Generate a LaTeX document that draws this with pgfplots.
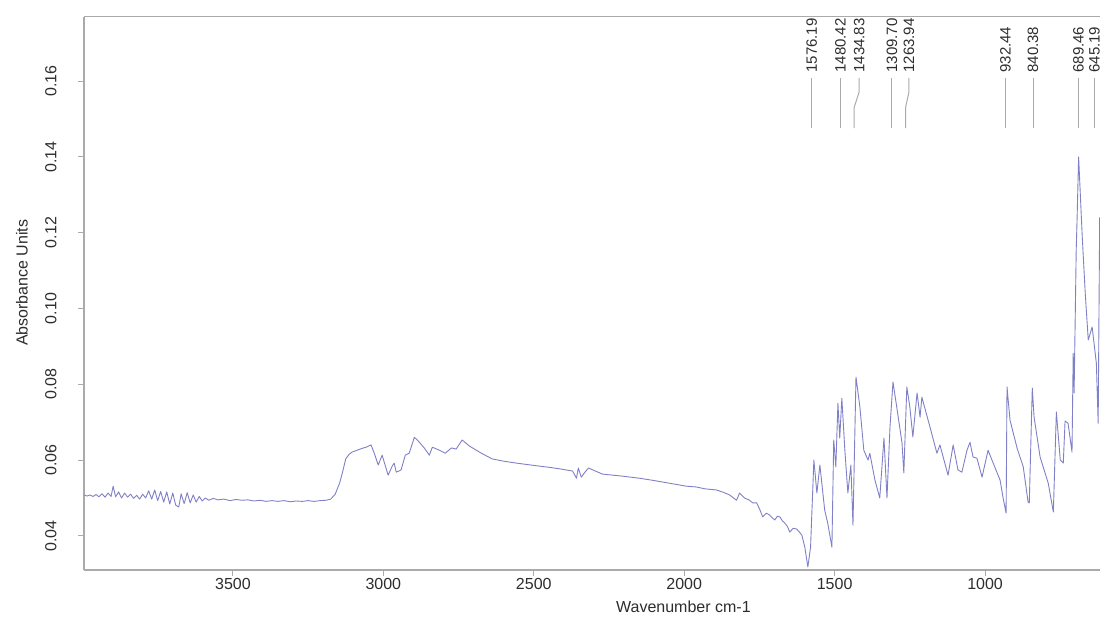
\documentclass[border=0pt]{standalone}
\usepackage{pgfplots}
\pgfplotsset{compat=1.18}
\usepackage{fontspec}
\setmainfont{Liberation Sans}
\definecolor{spec}{RGB}{128,128,198}
\definecolor{frame}{RGB}{170,170,170}
\definecolor{txt}{RGB}{45,45,45}
\begin{document}
\begin{tikzpicture}
\begin{axis}[
  at={(0,0)}, anchor=south west,
  width=508pt, height=276.7pt, scale only axis,
  xmin=618, xmax=3995, x dir=reverse,
  ymin=0.031, ymax=0.177,
  axis x line*=box, axis y line*=left,
  axis line style={frame, line width=0.6pt},
  xtick={1000,1500,2000,2500,3000,3500},
  ytick={0.04,0.06,0.08,0.10,0.12,0.14,0.16},
  xtick pos=lower, ytick pos=left,
  tick align=outside, major tick length=3pt,
  tick style={frame, line width=0.5pt},
  /pgf/number format/assume math mode=true,
  yticklabel style={/pgf/number format/fixed, /pgf/number format/zerofill, /pgf/number format/precision=2, rotate=90, anchor=south, inner sep=0pt},
  xticklabel style={/pgf/number format/set thousands separator={}, inner sep=0pt, anchor=north},
  xticklabel shift=1pt, yticklabel shift=10.5pt,
  tick label style={font=\fontsize{8}{9.6}\selectfont, text=txt},
  label style={font=\fontsize{8}{9.6}\selectfont, text=txt},
  xlabel={Wavenumber cm-1},
  xlabel style={at={(axis description cs:0.59,-0.0669)}, anchor=center},
  ylabel={Absorbance Units},
  ylabel style={at={(axis description cs:-0.061,0.519)}, anchor=center},
]
\addplot[spec, line width=0.45pt, line join=round] coordinates {
(3995,0.0508)(3985,0.0505)(3975,0.0508)(3965,0.0504)(3955,0.0509)(3945,0.0503)
(3935,0.0511)(3925,0.0502)(3915,0.0513)(3905,0.0504)(3898,0.0531)(3890,0.0503)
(3880,0.0516)(3870,0.0500)(3860,0.0513)(3850,0.0502)(3840,0.0510)(3830,0.0499)
(3820,0.0507)(3810,0.0497)(3800,0.0510)(3790,0.0500)(3780,0.0519)(3770,0.0497)
(3760,0.0521)(3750,0.0493)(3740,0.0517)(3730,0.0489)(3720,0.0516)(3710,0.0484)
(3700,0.0513)(3690,0.0481)(3680,0.0476)(3672,0.0511)(3662,0.0485)(3652,0.0514)
(3642,0.0487)(3632,0.0508)(3622,0.0489)(3612,0.0504)(3602,0.0492)(3592,0.0500)
(3580,0.0494)(3565,0.0499)(3550,0.0495)(3530,0.0497)(3510,0.0493)(3490,0.0496)
(3470,0.0494)(3450,0.0495)(3430,0.0492)(3410,0.0494)(3390,0.0491)(3370,0.0493)
(3350,0.0491)(3330,0.0493)(3310,0.0490)(3290,0.0492)(3270,0.0491)(3250,0.0493)
(3230,0.0491)(3210,0.0493)(3190,0.0494)(3175,0.0497)(3160,0.0510)(3145,0.0540)
(3135,0.0570)(3125,0.0603)(3114,0.0615)(3104,0.0621)(3087,0.0626)(3070,0.0631)
(3057,0.0634)(3041,0.0640)(3031,0.0620)(3017,0.0587)(3004,0.0613)(2984,0.0560)
(2970,0.0585)(2964,0.0592)(2957,0.0568)(2941,0.0574)(2927,0.0613)(2914,0.0618)
(2897,0.0660)(2887,0.0653)(2864,0.0632)(2847,0.0613)(2837,0.0634)(2814,0.0626)
(2794,0.0618)(2774,0.0632)(2758,0.0629)(2738,0.0653)(2714,0.0637)(2674,0.0618)
(2638,0.0603)(2600,0.0597)(2558,0.0592)(2520,0.0588)(2481,0.0584)(2450,0.0581)
(2415,0.0577)(2371,0.0571)(2358,0.0552)(2352,0.0579)(2342,0.0555)(2330,0.0568)
(2318,0.0579)(2272,0.0563)(2210,0.0558)(2148,0.0552)(2100,0.0546)(2050,0.0539)
(1992,0.0531)(1960,0.0529)(1930,0.0524)(1892,0.0521)(1870,0.0515)(1849,0.0508)
(1836,0.0500)(1826,0.0494)(1816,0.0513)(1800,0.0500)(1785,0.0495)(1772,0.0487)
(1759,0.0487)(1749,0.0470)(1739,0.0450)(1727,0.0460)(1716,0.0455)(1708,0.0448)
(1699,0.0442)(1690,0.0452)(1682,0.0450)(1674,0.0440)(1666,0.0434)(1657,0.0425)
(1649,0.0410)(1638,0.0420)(1626,0.0418)(1617,0.0410)(1609,0.0402)(1599,0.0370)
(1589,0.0318)(1580,0.0370)(1569,0.0600)(1559,0.0513)(1549,0.0587)(1533,0.0468)
(1523,0.0434)(1509,0.0370)(1503,0.0653)(1496,0.0582)(1489,0.0750)(1483,0.0658)
(1476,0.0763)(1466,0.0626)(1456,0.0513)(1446,0.0587)(1439,0.0428)(1429,0.0819)
(1416,0.0740)(1403,0.0626)(1389,0.0600)(1383,0.0618)(1366,0.0547)(1350,0.0500)
(1336,0.0658)(1326,0.0500)(1316,0.0687)(1306,0.0806)(1293,0.0737)(1276,0.0645)
(1270,0.0566)(1260,0.0793)(1250,0.0740)(1240,0.0661)(1226,0.0777)(1216,0.0713)
(1210,0.0766)(1183,0.0687)(1160,0.0618)(1150,0.0640)(1123,0.0560)(1106,0.0640)
(1090,0.0574)(1077,0.0568)(1060,0.0626)(1050,0.0647)(1040,0.0608)(1027,0.0605)
(1010,0.0555)(990,0.0626)(973,0.0592)(950,0.0547)(940,0.0500)(930,0.0460)
(927,0.0793)(917,0.0705)(893,0.0630)(873,0.0582)(857,0.0489)(853,0.0487)
(843,0.0790)(837,0.0713)(817,0.0608)(790,0.0539)(773,0.0463)(763,0.0727)
(750,0.0600)(740,0.0592)(734,0.0703)(724,0.0697)(711,0.0621)(707,0.0882)
(704,0.0777)(697,0.1154)(694,0.1240)(689,0.1400)(677,0.1190)(667,0.1040)
(657,0.0917)(644,0.0951)(630,0.0855)(624,0.0697)(619,0.1240)
};
% peak annotation lines
\addplot[frame, line width=0.5pt] coordinates {(1576.19,0.1608)(1576.19,0.1476)};
\addplot[frame, line width=0.5pt] coordinates {(1480.42,0.1608)(1480.42,0.1476)};
\addplot[frame, line width=0.5pt] coordinates {(1418.5,0.1608)(1418.5,0.1571)(1434.83,0.1531)(1434.83,0.1476)};
\addplot[frame, line width=0.5pt] coordinates {(1309.70,0.1608)(1309.70,0.1476)};
\addplot[frame, line width=0.5pt] coordinates {(1253,0.1608)(1253,0.1571)(1263.94,0.1531)(1263.94,0.1476)};
\addplot[frame, line width=0.5pt] coordinates {(932.44,0.1608)(932.44,0.1476)};
\addplot[frame, line width=0.5pt] coordinates {(840.38,0.1608)(840.38,0.1476)};
\addplot[frame, line width=0.5pt] coordinates {(689.46,0.1608)(689.46,0.1476)};
\addplot[frame, line width=0.5pt] coordinates {(636,0.1608)(636,0.1476)};
\begin{scope}[every node/.style={rotate=90, anchor=west, inner sep=0pt, font=\fontsize{7.5}{9}\selectfont, text=txt}]
\node at (axis cs:1576.19,0.1621) {1576.19};
\node at (axis cs:1480.42,0.1621) {1480.42};
\node at (axis cs:1418.5,0.1621) {1434.83};
\node at (axis cs:1309.70,0.1621) {1309.70};
\node at (axis cs:1253,0.1621) {1263.94};
\node at (axis cs:932.44,0.1621) {932.44};
\node at (axis cs:840.38,0.1621) {840.38};
\node at (axis cs:689.46,0.1621) {689.46};
\node at (axis cs:636,0.1621) {645.19};
\end{scope}
\end{axis}
\pgfresetboundingbox
\path (-42pt,-24.5pt) rectangle (508pt,285pt);
\end{tikzpicture}
\end{document}
